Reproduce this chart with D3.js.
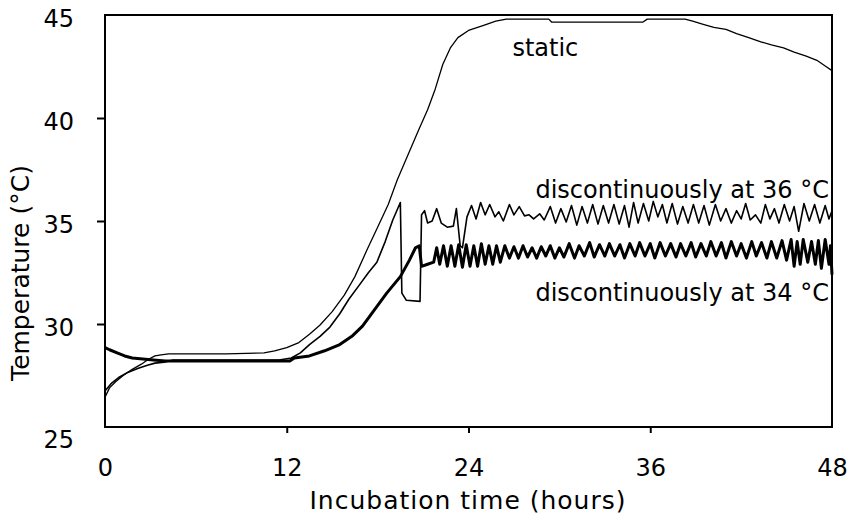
<!DOCTYPE html>
<html>
<head>
<meta charset="utf-8">
<script src="https://cdn.jsdelivr.net/npm/d3@7"></script>
<style>
  body { margin: 0; background: #fff; }
  text { font-family: "DejaVu Sans", sans-serif; fill: #000; }
</style>
</head>
<body>
<div id="chart"></div>
<script>
const width = 853;
const height = 516;

// hours, °C
const staticSeries = [
  [0, 26.45], [0.3, 26.9], [0.7, 27.2], [1.2, 27.5], [1.8, 27.8], [2.4, 28.05], [2.9, 28.3], [3.3, 28.45],
  [3.7, 28.5], [4.2, 28.55], [8, 28.55], [10.5, 28.6], [11.2, 28.7], [12, 28.85], [12.8, 29.1], [13.5, 29.5],
  [14.2, 29.95], [15, 30.6], [15.8, 31.4], [16.5, 32.3], [17.3, 33.6], [18, 34.7], [18.7, 35.8], [19.3, 37.0],
  [20, 38.2], [20.7, 39.4], [21.3, 40.4], [21.8, 41.4], [22.3, 42.6], [22.8, 43.4], [23.3, 43.9], [24, 44.25],
  [25, 44.5], [25.8, 44.7], [26.5, 44.8], [29.3, 44.8], [29.5, 44.65], [35.5, 44.65], [35.8, 44.8], [38.3, 44.8],
  [38.8, 44.7], [39.5, 44.55], [40.2, 44.4], [41, 44.3], [41.7, 44.1], [42.5, 43.9], [43.3, 43.7], [44, 43.55],
  [44.8, 43.4], [45.5, 43.2], [46.3, 43.0], [47, 42.8], [47.6, 42.5], [48, 42.3]
];

const disc36Series = [
  [0, 26.75], [0.4, 27.1], [0.9, 27.4], [1.5, 27.65], [2.2, 27.85], [2.8, 28.0], [3.3, 28.1], [3.9, 28.15],
  [4.5, 28.25], [8, 28.25], [11.5, 28.25], [12.3, 28.35], [12.9, 28.6], [13.5, 29.0], [14.2, 29.4], [14.85, 29.85],
  [15.5, 30.5], [16.1, 31.2], [16.8, 31.9], [17.4, 32.5], [17.95, 33.0], [18.5, 34.0], [19.0, 35.05], [19.5, 35.9],
  [19.6, 31.5], [19.9, 31.15], [20.8, 31.1], [20.9, 35.3], [21.1, 35.5], [21.3, 34.9], [21.6, 35.0], [21.9, 35.6],
  [22.2, 34.9], [22.6, 34.7], [23.0, 34.75], [23.2, 35.6], [23.45, 33.8], [23.6, 33.7], [23.9, 35.2], [24.2, 35.75],
  [24.5, 35.1], [24.8, 35.9], [25.1, 35.3], [25.4, 35.8], [25.75, 35.2], [26.0, 35.45], [26.3, 35.0], [26.7, 35.8],
  [27.0, 35.3], [27.35, 35.7], [27.7, 35.25], [28.0, 35.3], [28.3, 35.1], [28.7, 35.35], [29.0, 35.05], [29.4, 35.7],
  [29.75, 34.9], [30.1, 35.6], [30.45, 34.95], [30.8, 35.75], [31.15, 34.8], [31.5, 35.7], [31.85, 34.9], [32.2, 35.8],
  [32.55, 34.85], [32.9, 35.75], [33.25, 34.9], [33.6, 35.8], [33.95, 34.85], [34.3, 35.75], [34.6, 34.7], [34.9, 35.9],
  [35.2, 34.9], [35.55, 35.85], [35.9, 35.0], [36.2, 35.95], [36.5, 35.2], [36.8, 35.8], [37.1, 34.9], [37.45, 35.85],
  [37.8, 34.85], [38.15, 35.7], [38.5, 34.9], [38.85, 35.8], [39.2, 34.9], [39.55, 35.75], [39.9, 34.8], [40.3, 35.8],
  [40.65, 35.0], [41.0, 35.6], [41.35, 34.9], [41.7, 35.5], [42.0, 35.1], [42.3, 35.85], [42.6, 35.05], [42.95, 35.3],
  [43.3, 34.9], [43.6, 35.8], [43.9, 35.1], [44.2, 35.6], [44.5, 34.9], [44.85, 35.8], [45.2, 35.0], [45.5, 35.7],
  [45.8, 34.5], [46.15, 35.85], [46.5, 35.0], [46.85, 35.8], [47.2, 34.9], [47.55, 35.75], [47.8, 35.1], [48.0, 35.5]
];

const disc34Series = [
  [0, 28.85], [0.3, 28.75], [0.8, 28.6], [1.3, 28.45], [1.8, 28.35], [2.5, 28.3], [3.2, 28.25], [4, 28.2],
  [8, 28.2], [12.2, 28.2], [12.5, 28.35], [13.5, 28.45], [14.5, 28.7], [15.5, 29.0], [16.3, 29.4], [17.0, 29.9],
  [17.8, 30.7], [18.6, 31.5], [19.5, 32.3], [20.1, 33.1], [20.5, 33.7], [20.75, 33.8], [20.9, 32.8], [21.3, 32.9],
  [21.7, 33.0], [21.9, 33.7], [22.1, 32.9], [22.35, 33.8], [22.6, 32.8], [22.85, 33.8], [23.1, 32.8], [23.35, 33.85],
  [23.6, 32.75], [23.85, 33.85], [24.1, 32.8], [24.35, 33.8], [24.6, 32.8], [24.85, 33.9], [25.1, 32.9], [25.35, 33.8],
  [25.6, 32.9], [25.85, 33.8], [26.1, 33.0], [26.4, 33.8], [26.7, 33.2], [27.0, 33.75], [27.3, 33.2], [27.6, 33.8],
  [27.9, 33.25], [28.2, 33.7], [28.5, 33.2], [28.8, 33.75], [29.1, 33.3], [29.4, 33.8], [29.7, 33.2], [30.0, 33.7],
  [30.3, 33.25], [30.65, 33.9], [31.0, 33.2], [31.3, 33.8], [31.65, 33.3], [32.0, 33.95], [32.3, 33.25], [32.65, 33.85],
  [33.0, 33.3], [33.3, 33.9], [33.65, 33.3], [34.0, 33.85], [34.3, 33.2], [34.65, 33.9], [35.0, 33.3], [35.3, 33.95],
  [35.65, 33.3], [36.0, 33.9], [36.3, 33.2], [36.65, 33.95], [37.0, 33.3], [37.35, 33.9], [37.7, 33.25], [38.0, 33.9],
  [38.35, 33.3], [38.7, 33.95], [39.0, 33.25], [39.35, 33.9], [39.7, 33.3], [40.0, 34.0], [40.35, 33.3], [40.7, 33.95],
  [41.0, 33.2], [41.35, 34.0], [41.7, 33.3], [42.0, 33.9], [42.35, 33.2], [42.7, 34.0], [43.0, 33.3], [43.35, 33.95],
  [43.7, 33.2], [44.0, 34.0], [44.35, 33.2], [44.7, 34.05], [45.0, 33.1], [45.3, 34.1], [45.5, 32.8], [45.7, 34.0],
  [45.9, 32.9], [46.1, 34.1], [46.4, 33.0], [46.65, 34.0], [46.9, 32.9], [47.1, 34.05], [47.3, 32.7], [47.55, 34.1],
  [47.8, 32.9], [47.9, 33.8], [48.0, 32.4]
];

const xTicks = [0, 12, 24, 36, 48];
const yTicks = [25, 30, 35, 40, 45];

const labels = [
  { text: "static", t: 26.9, temp: 43.0, anchor: "start" },
  { text: "discontinuously at 36 \u00B0C", t: 47.8, temp: 36.1, anchor: "end" },
  { text: "discontinuously at 34 \u00B0C", t: 47.8, temp: 31.1, anchor: "end" }
];

const plot = { left: 105, right: 832, top: 15, bottom: 427 };

const x = d3.scaleLinear().domain([0, 48]).range([plot.left, plot.right]);
const y = d3.scaleLinear().domain([25, 45]).range([plot.bottom, plot.top]);

const svg = d3.select("#chart")
  .append("svg")
    .attr("width", width)
    .attr("height", height);

// x axis
const xAxis = svg.append("g")
  .attr("transform", `translate(0, ${plot.bottom})`)
  .call(d3.axisBottom(x).tickValues(xTicks).tickSize(6).tickFormat(d3.format("d")));
xAxis.select(".domain").remove();
xAxis.selectAll(".tick line")
  .attr("stroke", "#000")
  .attr("stroke-width", 2)
  .attr("opacity", d => (d === 0 || d === 48) ? 0 : 1);
xAxis.selectAll(".tick text")
  .attr("y", 49)
  .attr("dy", 0)
  .style("font-size", "24px")
  .style("font-family", "DejaVu Sans, sans-serif")
  .attr("fill", "#000");

// y axis
const yAxis = svg.append("g")
  .attr("transform", `translate(${plot.left}, 0)`)
  .call(d3.axisLeft(y).tickValues(yTicks).tickSize(8).tickFormat(d3.format("d")));
yAxis.select(".domain").remove();
yAxis.selectAll(".tick line")
  .attr("stroke", "#000")
  .attr("stroke-width", 2)
  .attr("opacity", d => (d === 25 || d === 45) ? 0 : 1);
yAxis.selectAll(".tick text")
  .attr("x", -31)
  .attr("dy", d => d === 25 ? 20 : 11)
  .style("font-size", "24px")
  .style("font-family", "DejaVu Sans, sans-serif")
  .attr("fill", "#000");

// frame
svg.append("rect")
  .attr("x", plot.left)
  .attr("y", plot.top)
  .attr("width", plot.right - plot.left)
  .attr("height", plot.bottom - plot.top)
  .attr("fill", "none")
  .attr("stroke", "#000")
  .attr("stroke-width", 2);

const line = d3.line()
  .x(d => x(d[0]))
  .y(d => y(d[1]));

svg.append("path")
  .datum(staticSeries)
  .attr("fill", "none")
  .attr("stroke", "#000")
  .attr("stroke-width", 1.3)
  .attr("stroke-linejoin", "round")
  .attr("d", line);

svg.append("path")
  .datum(disc36Series)
  .attr("fill", "none")
  .attr("stroke", "#000")
  .attr("stroke-width", 1.6)
  .attr("stroke-linejoin", "round")
  .attr("d", line);

svg.append("path")
  .datum(disc34Series)
  .attr("fill", "none")
  .attr("stroke", "#000")
  .attr("stroke-width", 3)
  .attr("stroke-linejoin", "round")
  .attr("d", line);

// curve labels
svg.selectAll(".curve-label")
  .data(labels)
  .enter()
  .append("text")
  .attr("class", "curve-label")
  .attr("x", d => x(d.t))
  .attr("y", d => y(d.temp))
  .attr("text-anchor", d => d.anchor)
  .style("font-size", "24px")
  .text(d => d.text);

// axis titles
svg.append("text")
  .attr("x", 468)
  .attr("y", 509)
  .attr("text-anchor", "middle")
  .style("font-size", "25px")
  .style("letter-spacing", "1px")
  .text("Incubation time (hours)");

svg.append("text")
  .attr("transform", "translate(29, 273) rotate(-90)")
  .attr("text-anchor", "middle")
  .style("font-size", "25px")
  .text("Temperature (\u00B0C)");
</script>
</body>
</html>
